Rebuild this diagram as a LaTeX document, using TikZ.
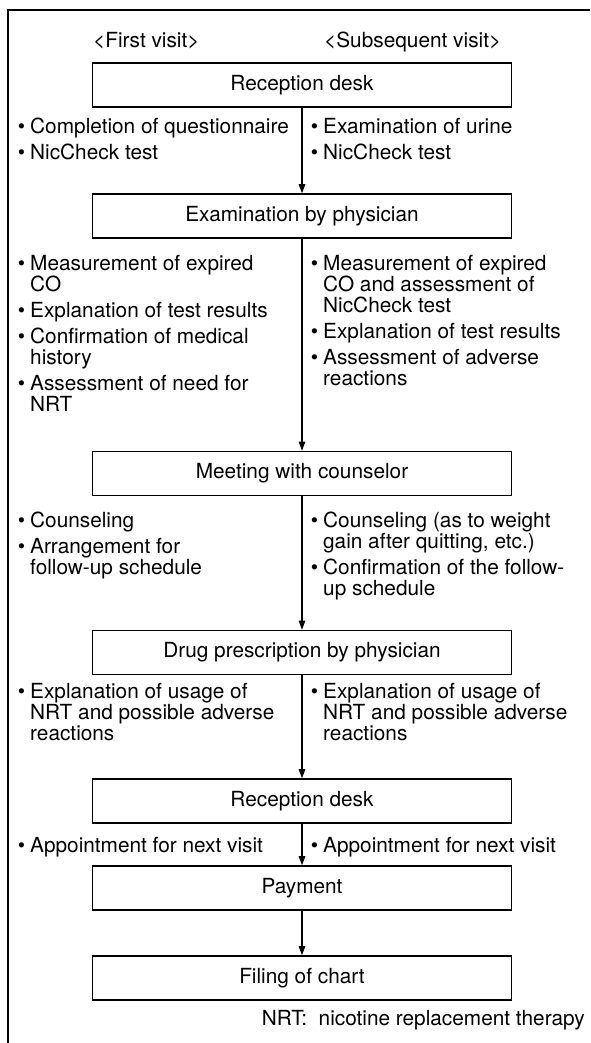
\documentclass[tikz,border=0pt]{standalone}
\usepackage{fontspec}
\setmainfont{TeX Gyre Heros}
\usetikzlibrary{arrows.meta}
\newcommand{\bul}{\makebox[0pt][r]{\textbullet\hspace{5pt}}}
\newcommand{\colbox}[1]{\parbox[t]{262pt}{\raggedright #1}}
\begin{document}
\begin{tikzpicture}[x=1pt,y=-1pt,
  every node/.style={font=\fontsize{20.8}{21}\selectfont, inner sep=0pt},
  stepbox/.style={draw, line width=1.6pt, minimum width=419pt, minimum height=44pt},
  col/.style={anchor=base west},
  flow/.style={line width=1.1pt, -{Triangle[length=9pt,width=6.5pt]}},
  frame/.style={line width=1.5pt}]
\useasboundingbox (0,0) rectangle (590,1043);
% frame (top and left)
\coordinate (fa) at (8,1043);
\coordinate (fb) at (8,10);
\coordinate (fc) at (590,10);
\draw[frame] (fa) -- (fb) -- (fc);
% headings
\node[anchor=base west] (h1) at (93,48) {<First visit>};
\node[anchor=base west] (h2) at (324,48) {<Subsequent visit>};
% boxes
\node[stepbox] (b1) at (302,85) {Reception desk};
\node[stepbox] (b2) at (302,216) {Examination by physician};
\node[stepbox] (b3) at (302,473.5) {Meeting with counselor};
\node[stepbox] (b4) at (302,652.5) {Drug prescription by physician};
\node[stepbox] (b5) at (302,801) {Reception desk};
\node[stepbox] (b6) at (302,888) {Payment};
\node[stepbox] (b7) at (302,978) {Filing of chart};
% connectors
\draw[flow] (b1.south) -- (b2.north);
\draw[flow] (b2.south) -- (b3.north);
\draw[flow] (b3.south) -- (b4.north);
\draw[flow] (b4.south) -- (b5.north);
\draw[flow] (b5.south) -- (b6.north);
\draw[flow] (b6.south) -- (b7.north);
% text columns
\node[col] (l1) at (30,134) {\colbox{\bul Completion of questionnaire\\[5pt]\bul NicCheck test}};
\node[col] (r1) at (323,134) {\colbox{\bul Examination of urine\\[5pt]\bul NicCheck test}};
\node[col] (l2) at (30,270) {\colbox{\bul Measurement of expired\\CO\\[5pt]\bul Explanation of test results\\[5pt]\bul Confirmation of medical\\history\\[5pt]\bul Assessment of need for\\NRT}};
\node[col] (r2) at (323,270) {\colbox{\bul Measurement of expired\\CO and assessment of\\NicCheck test\\[5pt]\bul Explanation of test results\\[5pt]\bul Assessment of adverse\\reactions}};
\node[col] (l3) at (30,527) {\colbox{\bul Counseling\\[5pt]\bul Arrangement for\\follow-up schedule}};
\node[col] (r3) at (323,527) {\colbox{\bul Counseling (as to weight\\gain after quitting, etc.)\\[5pt]\bul Confirmation of the follow-\\up schedule}};
\node[col] (l4) at (30,698) {\colbox{\bul Explanation of usage of\\NRT and possible adverse\\reactions}};
\node[col] (r4) at (323,698) {\colbox{\bul Explanation of usage of\\NRT and possible adverse\\reactions}};
\node[col] (l5) at (30,852) {\colbox{\bul Appointment for next visit}};
\node[col] (r5) at (323,852) {\colbox{\bul Appointment for next visit}};
% footnote
\node[anchor=base east] (fn) at (585,1025) {NRT:\ \ nicotine replacement therapy};
\end{tikzpicture}
\end{document}
